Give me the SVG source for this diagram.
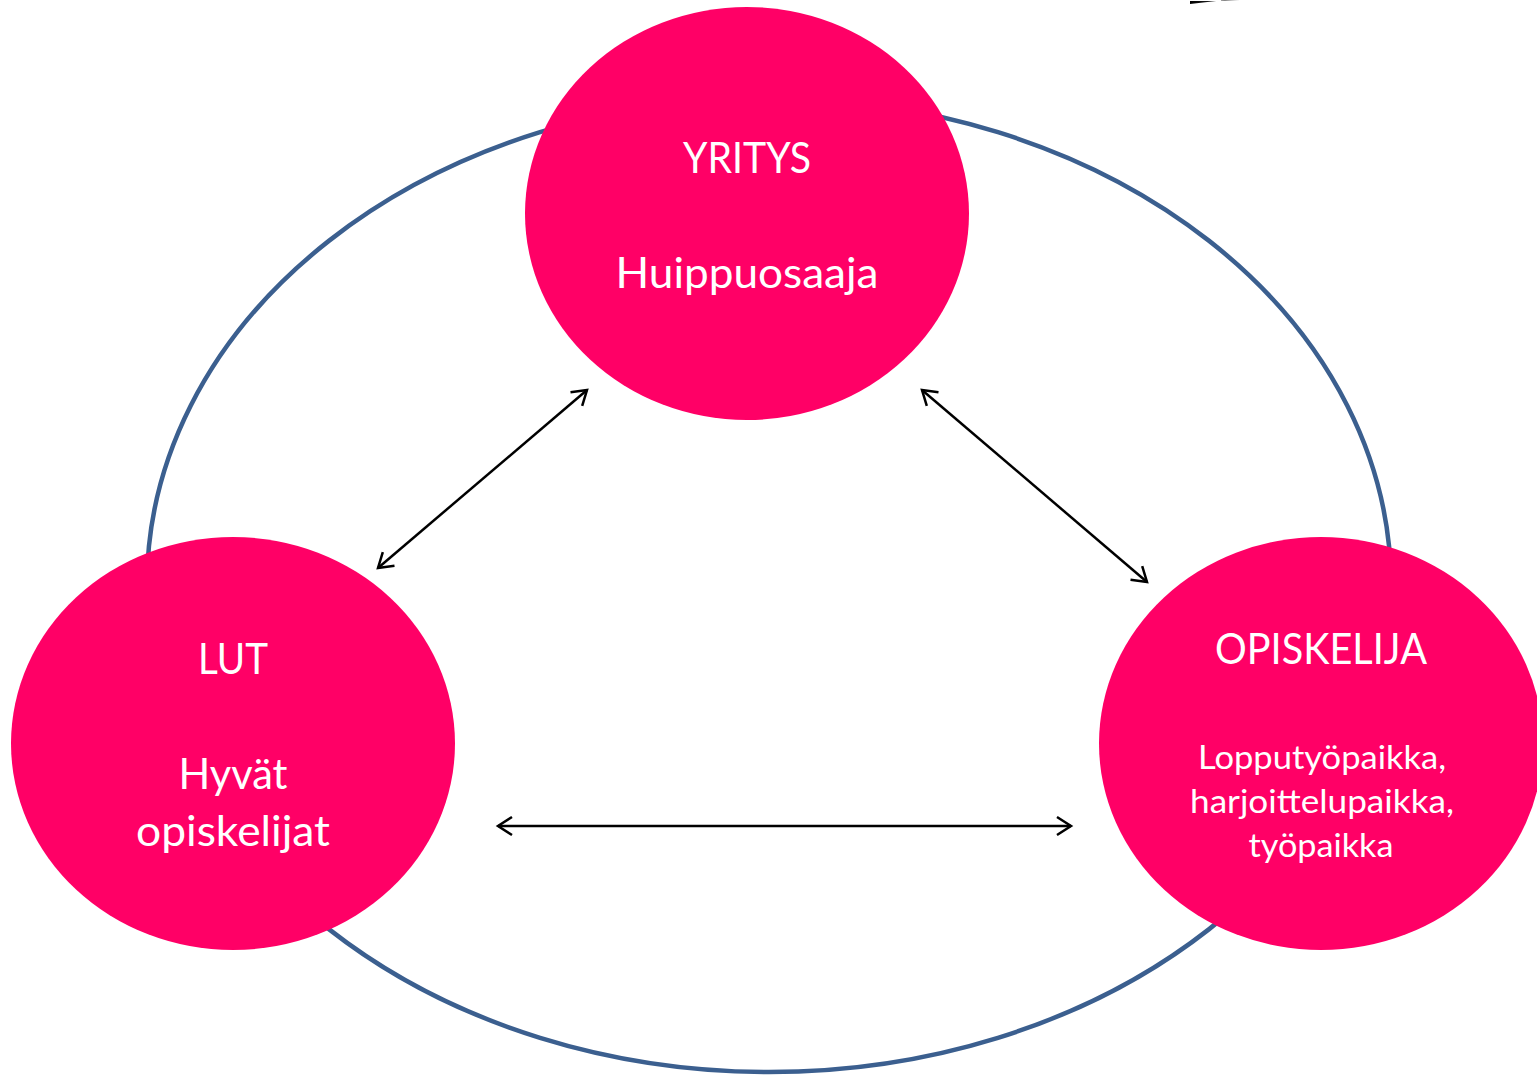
<svg xmlns="http://www.w3.org/2000/svg" width="1537" height="1075" viewBox="0 0 1537 1075">
<style>
.node{fill:#FF0066;}
.t{font-family:Lato,"Open Sans","Liberation Sans",sans-serif;fill:#FFFFFF;text-anchor:middle;}
.big{font-size:42px;}
.small{font-size:33px;}
.conn{stroke:#000;stroke-width:2.5;fill:none;marker-start:url(#ah);marker-end:url(#ah);}
</style>
<defs>
<marker id="ah" markerUnits="userSpaceOnUse" markerWidth="24" markerHeight="24" viewBox="0 0 24 24" refX="20" refY="12" orient="auto-start-reverse">
<path d="M6,3 L20,12 L6,21" fill="none" stroke="#000" stroke-width="2.5"/>
</marker>
<linearGradient id="g" x1="0" x2="1" y1="0" y2="0">
<stop offset="0" stop-color="#000"/>
<stop offset="0.5" stop-color="#222"/>
<stop offset="1" stop-color="#fff"/>
</linearGradient>
</defs>
<rect width="1537" height="1075" fill="#fff"/>
<polygon points="1190,4 1225,0 1240,0 1190,1" fill="url(#g)"/>
<ellipse cx="769" cy="585" rx="622" ry="487" fill="none" stroke="#3B5F8F" stroke-width="4.5"/>
<g id="connectors">
<line class="conn" x1="378" y1="568" x2="587" y2="390"/>
<line class="conn" x1="922" y1="390" x2="1147" y2="582"/>
<line class="conn" x1="498" y1="826" x2="1071" y2="826"/>
</g>
<g id="yritys">
<ellipse class="node" cx="747" cy="213.5" rx="222" ry="206.5"/>
<text class="t big" x="747" y="173" textLength="128" lengthAdjust="spacingAndGlyphs">YRITYS</text>
<text class="t big" x="747" y="288" textLength="263" lengthAdjust="spacingAndGlyphs">Huippuosaaja</text>
</g>
<g id="lut">
<ellipse class="node" cx="233" cy="743.5" rx="222" ry="206.5"/>
<text class="t big" x="233" y="674" textLength="70" lengthAdjust="spacingAndGlyphs">LUT</text>
<text class="t big" x="233" y="789" textLength="109" lengthAdjust="spacingAndGlyphs">Hyvät</text>
<text class="t big" x="233" y="846" textLength="194" lengthAdjust="spacingAndGlyphs">opiskelijat</text>
</g>
<g id="opiskelija">
<ellipse class="node" cx="1321" cy="743.5" rx="222" ry="206.5"/>
<text class="t big" x="1321" y="664" textLength="212" lengthAdjust="spacingAndGlyphs">OPISKELIJA</text>
<text class="t small" x="1322" y="769" textLength="248" lengthAdjust="spacingAndGlyphs">Lopputyöpaikka,</text>
<text class="t small" x="1322" y="813" textLength="264" lengthAdjust="spacingAndGlyphs">harjoittelupaikka,</text>
<text class="t small" x="1321" y="857" textLength="145" lengthAdjust="spacingAndGlyphs">työpaikka</text>
</g>
</svg>
